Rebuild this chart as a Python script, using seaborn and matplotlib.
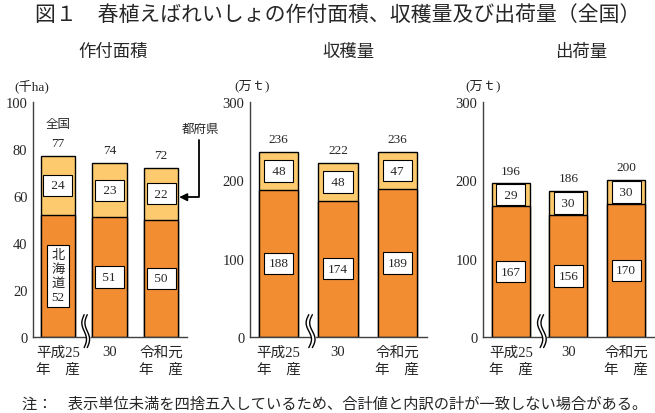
import numpy as np
import pandas as pd
import matplotlib
matplotlib.use('Agg')
import matplotlib.pyplot as plt
import matplotlib.transforms as mtransforms
import seaborn as sns

# データ
years = ['平成25\n年　産', '30', '令和元\n年　産']
area_hokkaido = [52, 51, 50]
area_fuken = [24, 23, 22]
area_total = [77, 74, 72]
harvest_hokkaido = [188, 174, 189]
harvest_fuken = [48, 48, 47]
harvest_total = [236, 222, 236]
ship_hokkaido = [167, 156, 170]
ship_fuken = [29, 30, 30]
ship_total = [196, 186, 200]

panel_titles = ['作付面積', '収穫量', '出荷量']
units = ['(千ha)', '(万ｔ)', '(万ｔ)']

sns.set_style('white')
plt.rcParams['font.family'] = ['Liberation Serif', 'Noto Sans CJK JP']
plt.rcParams['axes.edgecolor'] = '#404040'

DARK = '#F28D32'
LIGHT = '#FDCB6E'
W, H = 655, 414

fig = plt.figure(figsize=(W / 100, H / 100), dpi=100)

# 軸の位置（ピクセル → 図の比率）
ax_px = [(33, 154), (250, 177), (483, 172)]
bottom, height = (H - 338) / H, 235 / H
axes = [fig.add_axes([l / W, bottom, w / W, height]) for l, w in ax_px]

panels = [
    (area_hokkaido, area_fuken, area_total, 100, 20),
    (harvest_hokkaido, harvest_fuken, harvest_total, 300, 100),
    (ship_hokkaido, ship_fuken, ship_total, 300, 100),
]

for i, (ax, (hok, fuk, tot, ymax, step)) in enumerate(zip(axes, panels)):
    df = pd.DataFrame({'year': years, 'hokkaido': hok, 'fuken': fuk, 'total': tot})
    sns.barplot(data=df, x='year', y='total', color=LIGHT, saturation=1,
                width=0.66, edgecolor='black', linewidth=1, ax=ax)
    sns.barplot(data=df, x='year', y='hokkaido', color=DARK, saturation=1,
                width=0.66, edgecolor='black', linewidth=1, ax=ax)
    ax.set_xlim(-0.48, 2.5)
    ax.set_ylim(0, ymax)
    ax.set_yticks(np.arange(0, ymax + 1, step))
    ax.set_xlabel('')
    ax.set_ylabel('')
    sns.despine(ax=ax)
    ax.spines['left'].set_linewidth(1)
    ax.spines['bottom'].set_linewidth(1)
    ax.tick_params(axis='y', direction='in', length=4, width=1, color='#404040',
                   labelsize=10.5, pad=4)
    ax.tick_params(axis='x', length=0, pad=6)
    for lab in ax.get_xticklabels():
        lab.set_fontsize(10.5)
        lab.set_linespacing(1.4)
        lab.set_verticalalignment('top')

    box = dict(boxstyle='square,pad=0.35', fc='white', ec='black', lw=0.8)
    for j in range(3):
        # 北海道
        if i == 0 and j == 0:
            ax.text(j, hok[j] / 2, '北\n海\n道\n' + str(hok[j]), ha='center', va='center',
                    fontsize=9.5, linespacing=1.2, bbox=box, zorder=5)
        else:
            s = str(hok[j]) if hok[j] >= 100 else f' {hok[j]} '
            ax.text(j, hok[j] / 2, s, ha='center', va='center', fontsize=9.5,
                    bbox=box, zorder=5)
        # 都府県
        ax.text(j, (hok[j] + tot[j]) / 2, f' {fuk[j]} ', ha='center', va='center',
                fontsize=9.5, bbox=box, zorder=5)
        # 合計
        ax.annotate(str(tot[j]), (j, tot[j]), xytext=(0, 5), textcoords='offset points',
                    ha='center', va='bottom', fontsize=9.5)
    if i == 0:
        ax.annotate('全国', (0, tot[0]), xytext=(0, 19), textcoords='offset points',
                    ha='center', va='bottom', fontsize=9)

    # 省略記号（波線）
    trans = mtransforms.blended_transform_factory(ax.transData, ax.transAxes)
    t = np.linspace(0, 1, 60)
    yy = -0.045 + 0.14 * t
    xc = 0.54
    xl = xc - 0.03 + 0.045 * np.sin(2 * np.pi * t)
    xr = xl + 0.06
    ax.fill_betweenx(yy, xl, xr, color='white', transform=trans, clip_on=False, zorder=6)
    ax.plot(xl, yy, color='black', lw=1, transform=trans, clip_on=False, zorder=7)
    ax.plot(xr, yy, color='black', lw=1, transform=trans, clip_on=False, zorder=7)

# 都府県の矢印
ax1 = axes[0]
ax1.text(2.76, 88.5, '都府県', ha='center', va='center', fontsize=9)
ax1.annotate('', xy=(2.35, 59.5), xytext=(2.74, 84),
             arrowprops=dict(arrowstyle='-|>', color='black', lw=1.3, mutation_scale=11,
                             connectionstyle='angle,angleA=90,angleB=0,rad=0',
                             shrinkA=0, shrinkB=0),
             annotation_clip=False)

# 単位
for x, u in zip([32, 252, 483], units):
    fig.text(x / W, 1 - 86 / H, u, ha='center', va='center', fontsize=9.5)

# パネル見出し
for x, ttl in zip([113, 348, 581], panel_titles):
    fig.text(x / W, 1 - 52 / H, ttl, ha='center', va='center', fontsize=12.5,
             family='Noto Sans CJK JP')

fig.text(338 / W, 1 - 15 / H, '図１　春植えばれいしょの作付面積、収穫量及び出荷量（全国）',
         ha='center', va='center', fontsize=15, family='Noto Sans CJK JP')

fig.text(22 / W, 1 - 405 / H,
         '注：　表示単位未満を四捨五入しているため、合計値と内訳の計が一致しない場合がある。',
         ha='left', va='center', fontsize=11)

fig.savefig('out.png', dpi=100)
